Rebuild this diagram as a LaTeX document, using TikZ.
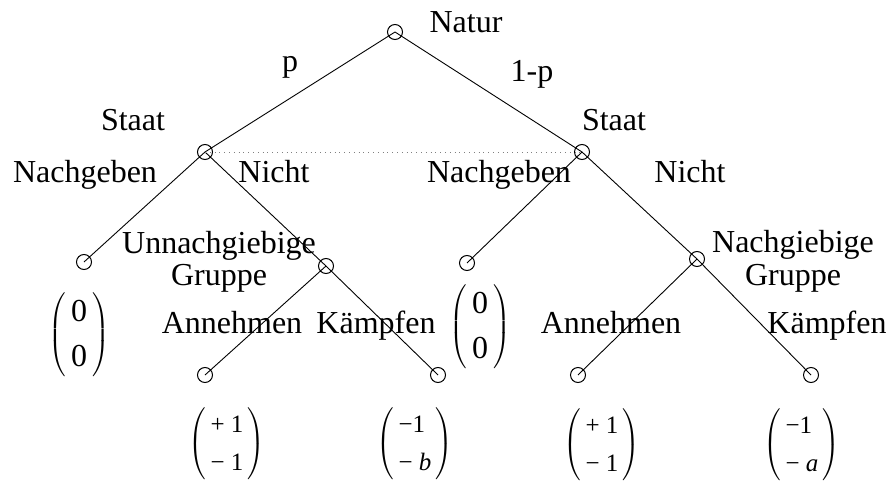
\documentclass[tikz,border=0pt]{standalone}
\usepackage{fontspec}
\setmainfont{Liberation Serif}
\usepackage{array}
\newcommand{\bigvec}[2]{$\left(\renewcommand{\arraystretch}{1.2}\begin{tabular}{@{\,}c@{\,}}#1\\#2\end{tabular}\right)$}
\newcommand{\smallvec}[2]{$\left(\renewcommand{\arraystretch}{1.35}\begin{tabular}{@{\,}l@{\,}}#1\\#2\end{tabular}\right)$}
\begin{document}
\begin{tikzpicture}[x=0.5pt,y=-0.5pt,
  gnode/.style={circle,draw,inner sep=0pt,minimum size=7.5pt,line width=0.5pt},
  lbl/.style={font=\fontsize{16}{18}\selectfont,inner sep=0pt,anchor=base},
  bigpay/.style={font=\fontsize{16}{19}\selectfont,inner sep=0pt},
  smallpay/.style={font=\fontsize{12.5}{14}\selectfont,inner sep=0pt},
  edge/.style={line width=0.45pt}]
\useasboundingbox (0,0) rectangle (888,481);
% game nodes
\node[gnode] (n0) at (395,32) {};
\node[gnode] (s1) at (205,152) {};
\node[gnode] (s2) at (582,152) {};
\node[gnode] (l1) at (84,262) {};
\node[gnode] (g1) at (326,266) {};
\node[gnode] (m1) at (467,263) {};
\node[gnode] (g2) at (697,259) {};
\node[gnode] (a1) at (205,375) {};
\node[gnode] (k1) at (438,375) {};
\node[gnode] (a2) at (578,375) {};
\node[gnode] (k2) at (811,375) {};
% edges
\draw[edge] (n0.center) -- (s1.center);
\draw[edge] (n0.center) -- (s2.center);
\draw[edge] (s1.center) -- (l1.center);
\draw[edge] (s1.center) -- (g1.center);
\draw[edge] (s2.center) -- (m1.center);
\draw[edge] (s2.center) -- (g2.center);
\draw[edge] (g1.center) -- (a1.center);
\draw[edge] (g1.center) -- (k1.center);
\draw[edge] (g2.center) -- (a2.center);
\draw[edge] (g2.center) -- (k2.center);
\draw[gray,line width=0.4pt,dotted] (s1.center) -- (s2.center);
% labels
\node[lbl] (tNatur) at (466,33) {Natur};
\node[lbl] (tp) at (290,72) {p};
\node[lbl] (t1p) at (532,82) {1-p};
\node[lbl] (tS1) at (133,130) {Staat};
\node[lbl] (tS2) at (614,130) {Staat};
\node[lbl] (tN1) at (85,182) {Nachgeben};
\node[lbl] (tNi1) at (274,182) {Nicht};
\node[lbl] (tN2) at (499,182) {Nachgeben};
\node[lbl] (tNi2) at (690,182) {Nicht};
\node[lbl] (tU1) at (219,253) {Unnachgiebige};
\node[lbl] (tU2) at (219,285) {Gruppe};
\node[lbl] (tG1) at (793,252) {Nachgiebige};
\node[lbl] (tG2) at (793,285) {Gruppe};
\node[lbl] (tA1) at (232,333) {Annehmen};
\node[lbl] (tK1) at (376,333) {Kämpfen};
\node[lbl] (tA2) at (611,333) {Annehmen};
\node[lbl] (tK2) at (827,333) {Kämpfen};
% payoffs
\node[bigpay] (p1) at (79,335) {\bigvec{0}{0}};
\node[bigpay] (p2) at (480,327) {\bigvec{0}{0}};
\node[smallpay] (p3) at (227,444) {\smallvec{+ 1}{− 1}};
\node[smallpay] (p4) at (415,444) {\smallvec{−1}{− \textit{b}}};
\node[smallpay] (p5) at (602,445) {\smallvec{+ 1}{− 1}};
\node[smallpay] (p6) at (802,445) {\smallvec{−1}{− \textit{a}}};
\end{tikzpicture}
\end{document}
